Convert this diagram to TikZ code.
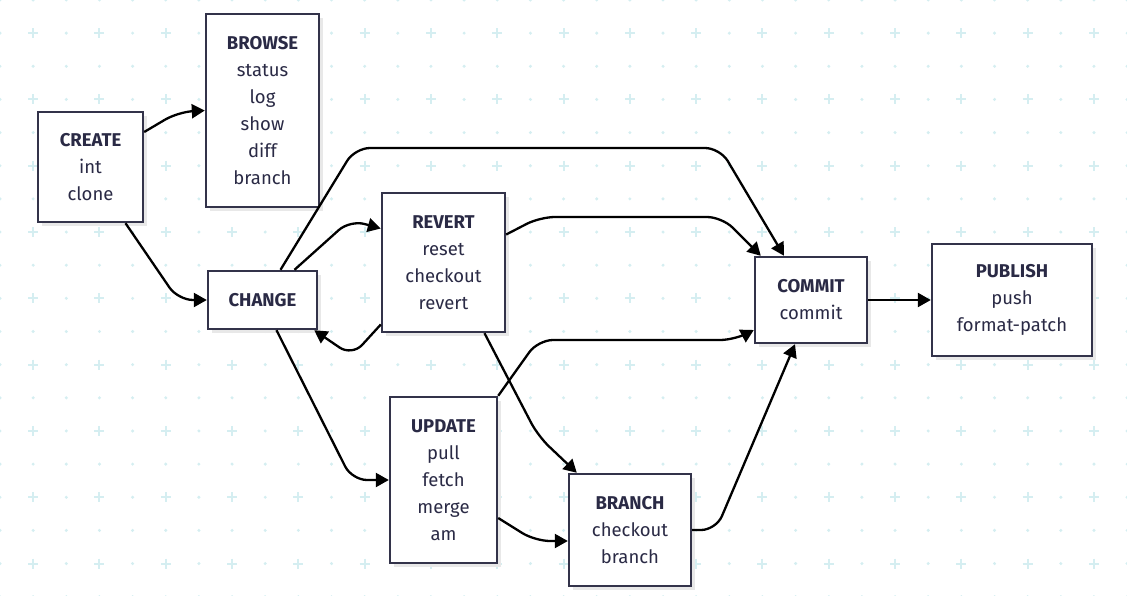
\documentclass[tikz,border=0pt]{standalone}
\usepackage{fontspec}
\setmainfont{Fira Sans}
\usetikzlibrary{arrows.meta,shadows,positioning}
\definecolor{boxline}{HTML}{33334A}
\definecolor{boxtext}{HTML}{2A2A45}
\definecolor{gridcol}{HTML}{D5EEF1}
\tikzset{%
	box/.style  = {draw=boxline, line width=2.4pt, fill=white, align=center, inner sep=0pt, text=boxtext,
	               font={\fontsize{18.5}{27}\selectfont},
	               drop shadow={shadow xshift=4pt, shadow yshift=-4pt, fill=black!9, opacity=1}},
	link/.style = {line width=2.3pt, rounded corners=15pt, -{Triangle[length=13pt,width=14pt]}},
	gridcross/.style = {gridcol, line width=2pt},
}
\begin{document}
\begin{tikzpicture}[x=1pt,y=-1pt]
			\useasboundingbox (0,0) rectangle (1127,596);
			% background dots and crosses
			\foreach \i in {0,...,34}{
				\foreach \j in {0,...,18}{
					\pgfmathtruncatemacro\both{mod(\i,2)*mod(\j,2)}
					\ifnum\both=1
						\draw[gridcross] (\i*33.15-5,\j*33.15) -- ++(10,0) (\i*33.15,\j*33.15-5) -- ++(0,10);
					\else
						\fill[gridcol] (\i*33.15,\j*33.15) circle (1.7);
					\fi
				}
			}
			
			\node[box, minimum width=105pt, minimum height=110pt] (create) at (90.5,167) {\textbf{CREATE}\\int\\clone};
			\node[box, minimum width=113pt, minimum height=193pt] (browse) at (262.5,110.5) {\textbf{BROWSE}\\status\\log\\show\\diff\\branch};
			\node[box, minimum width=109pt, minimum height=58pt] (change) at (262.5,300) {\textbf{CHANGE}};
			\node[box, minimum width=123pt, minimum height=139pt] (revert) at (443.5,262.5) {\textbf{REVERT}\\reset\\checkout\\revert};
			\node[box, minimum width=107pt, minimum height=166pt] (update) at (443.5,480) {\textbf{UPDATE}\\pull\\fetch\\merge\\am};
			\node[box, minimum width=122pt, minimum height=112pt] (branch) at (630,530) {\textbf{BRANCH}\\checkout\\branch};
			\node[box, minimum width=112pt, minimum height=86pt] (commit) at (811,300) {\textbf{COMMIT}\\commit};
			\node[box, minimum width=160pt, minimum height=112pt] (publish) at (1012,300) {\textbf{PUBLISH}\\push\\format-patch};
			
			\draw[link] ([yshift=35pt]create.east) -- (178,112) -- (browse.west);
			\draw[link] ([xshift=35pt]create.south) -- (178,300) -- (change.west);
			\draw[link] ([xshift=18pt]change.north) -- (355,148) -- (720,148) -- ([xshift=-27pt]commit.north);
			\draw[link] ([xshift=32pt]change.north) -- (350,220) -- ([yshift=34pt]revert.west);
			\draw[link] ([yshift=-62pt]revert.west) -- (352,356) -- ([xshift=-4pt]change.south east);
			\draw[link] ([xshift=14pt]change.south) -- (352,480) -- (update.west);
			\draw[link] ([yshift=28pt]revert.east) -- (540,217) -- (722,217) -- ([xshift=7pt]commit.north west);
			\draw[link] ([xshift=41pt]revert.south) -- (538,436) -- ([xshift=9pt]branch.north west);
			\draw[link] (update.north east) -- (538,340) -- (735,340) -- ([yshift=-30pt]commit.west);
			\draw[link] ([yshift=-38pt]update.east) -- (535,541) -- ([yshift=-11pt]branch.west);
			\draw[link] (branch.east) -- (716,530) -- ([xshift=-16pt]commit.south);
			\draw[link] (commit.east) -- (publish.west);
\end{tikzpicture}
\end{document}
